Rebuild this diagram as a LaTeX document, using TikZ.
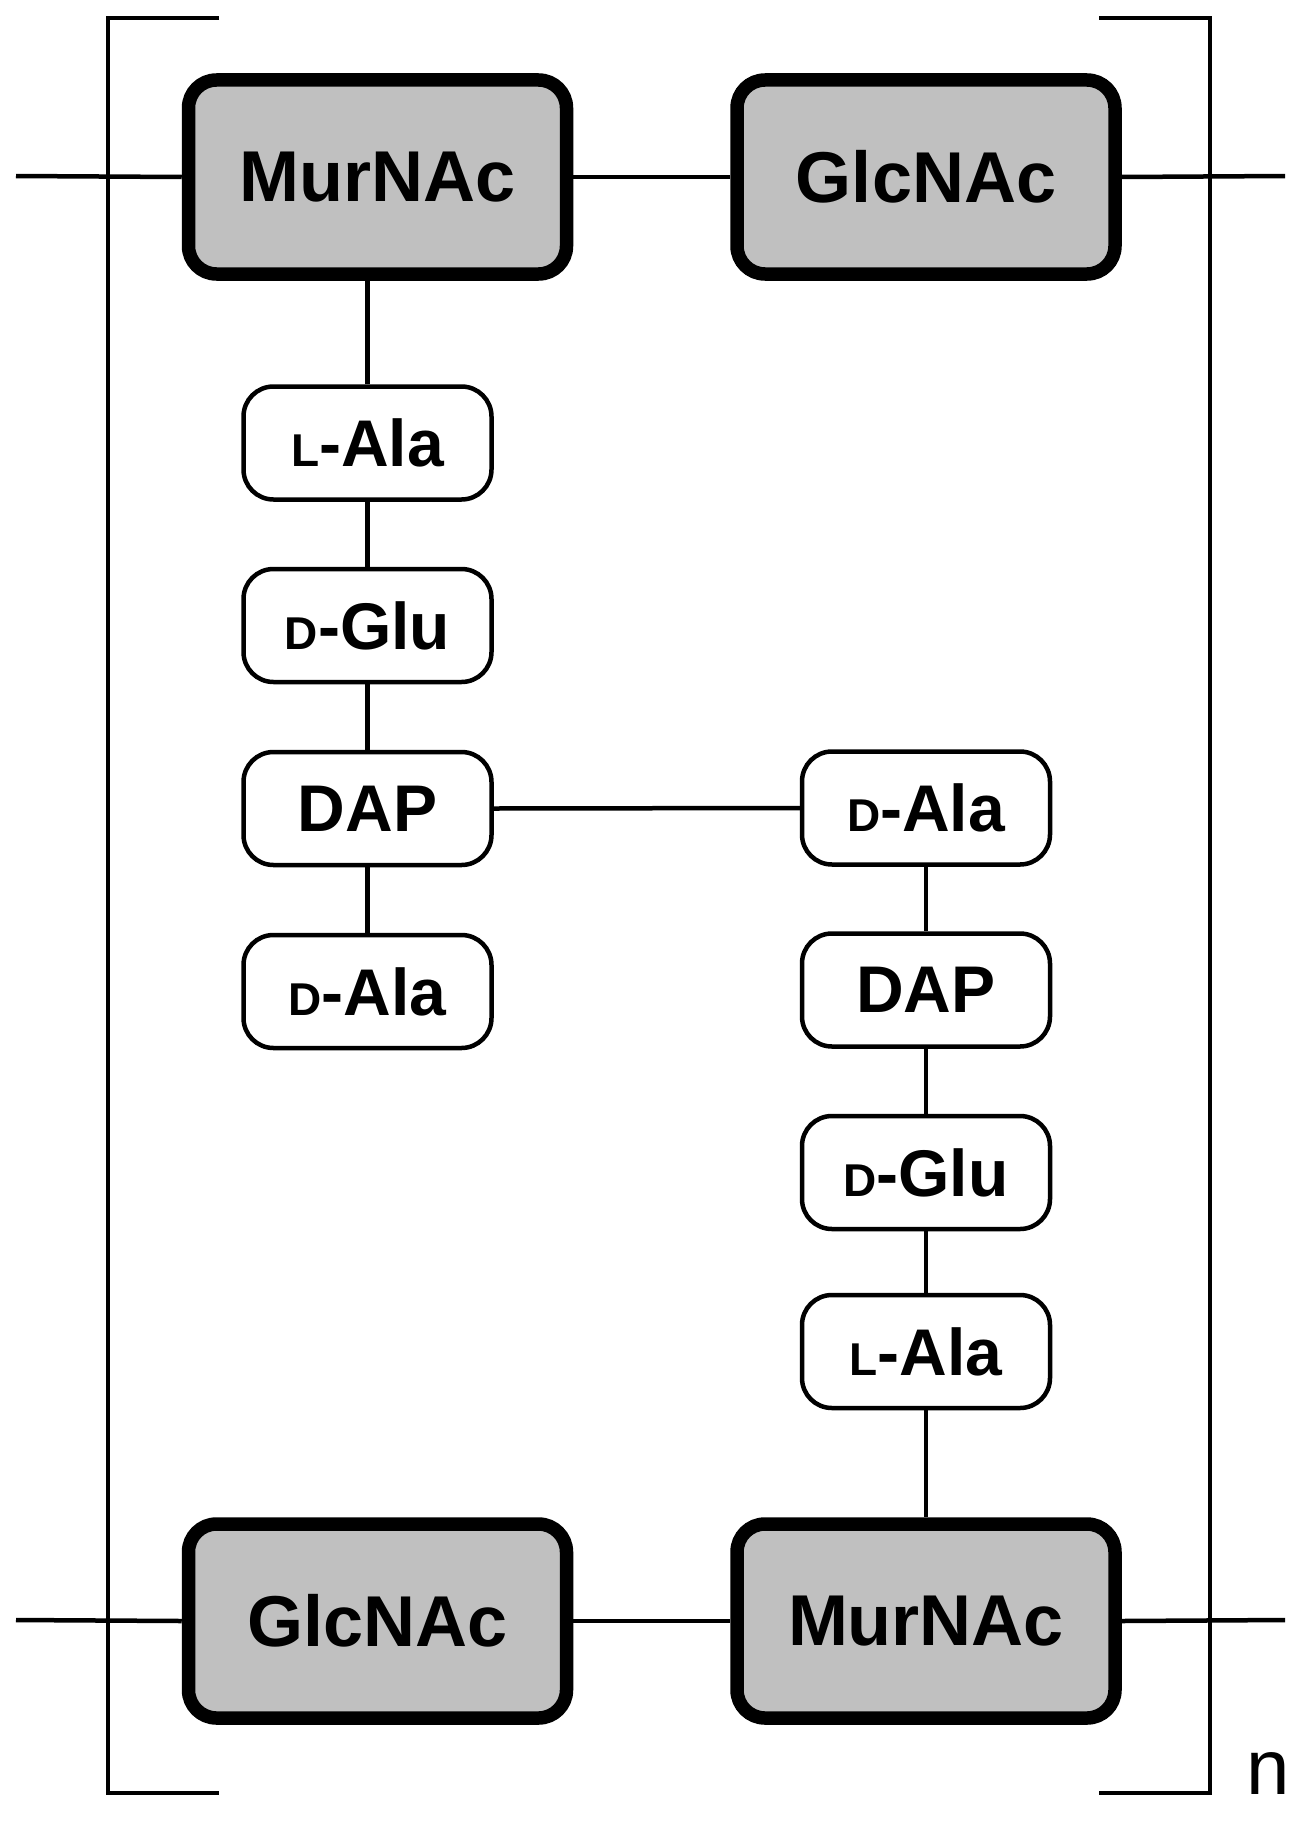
\documentclass[tikz,border=0pt]{standalone}
\usepackage{fontspec}
\setmainfont{Liberation Sans}
\definecolor{sugargray}{HTML}{C0C0C0}
\newcommand{\smlc}[1]{{\fontsize{46}{50}\selectfont #1}}
\begin{document}
\begin{tikzpicture}[x=1pt,y=-1pt,
  sugar/.style={draw, line width=13.5pt, fill=sugargray, rounded corners=28pt,
    minimum width=378pt, minimum height=194pt, inner sep=0pt,
    font=\fontsize{72}{80}\selectfont\bfseries},
  pep/.style={draw, line width=4.5pt, fill=white, rounded corners=30pt,
    minimum width=248pt, minimum height=113pt, inner sep=0pt,
    font=\fontsize{66}{72}\selectfont\bfseries},
  link/.style={line width=4.5pt},
  brack/.style={line width=4.5pt, line join=miter}]
\useasboundingbox (0,0) rectangle (1307,1825);
% sugars
\node[sugar] (murT) at (377.5,177) {MurNAc};
\node[sugar] (glcT) at (926,177) {GlcNAc};
\node[sugar] (glcB) at (377.5,1621) {GlcNAc};
\node[sugar] (murB) at (926,1621) {MurNAc};
% left peptide
\node[pep] (lalaL) at (367.5,443) {\smlc{L}-Ala};
\node[pep] (dgluL) at (367.5,625.5) {\smlc{D}-Glu};
\node[pep] (dapL) at (367.5,808.5) {DAP};
\node[pep] (dalaL) at (367.5,991.5) {\smlc{D}-Ala};
% right peptide
\node[pep] (dalaR) at (926,808) {\smlc{D}-Ala};
\node[pep] (dapR) at (926,990) {DAP};
\node[pep] (dgluR) at (926,1172.5) {\smlc{D}-Glu};
\node[pep] (lalaR) at (926,1351.5) {\smlc{L}-Ala};
% free ends
\coordinate (tl) at (16,176);
\coordinate (tr) at (1285,176);
\coordinate (bl) at (16,1620);
\coordinate (br) at (1285,1620);
% glycan strands
\draw[link] (tl) -- (murT.west);
\draw[link] (murT.east) -- (glcT.west);
\draw[link] (glcT.east) -- (tr);
\draw[link] (bl) -- (glcB.west);
\draw[link] (glcB.east) -- (murB.west);
\draw[link] (murB.east) -- (br);
% peptide links
\draw[link] (lalaL.north) -- (lalaL.north |- murT.south);
\draw[link] (lalaL) -- (dgluL);
\draw[link] (dgluL) -- (dapL);
\draw[link] (dapL) -- (dalaL);
\draw[link] (dapL.east) -- (dalaR.west);
\draw[link] (dalaR) -- (dapR);
\draw[link] (dapR) -- (dgluR);
\draw[link] (dgluR) -- (lalaR);
\draw[link] (lalaR.south) -- (lalaR.south |- murB.north);
% brackets
\coordinate (lb1) at (219,18);
\coordinate (lb2) at (108,18);
\coordinate (lb3) at (108,1793);
\coordinate (lb4) at (219,1793);
\coordinate (rb1) at (1099,18);
\coordinate (rb2) at (1210,18);
\coordinate (rb3) at (1210,1793);
\coordinate (rb4) at (1099,1793);
\draw[brack] (lb1) -- (lb2) -- (lb3) -- (lb4);
\draw[brack] (rb1) -- (rb2) -- (rb3) -- (rb4);
\node[inner sep=0pt, font=\fontsize{78}{80}\selectfont] (nlab) at (1268,1773) {n};
\end{tikzpicture}
\end{document}
